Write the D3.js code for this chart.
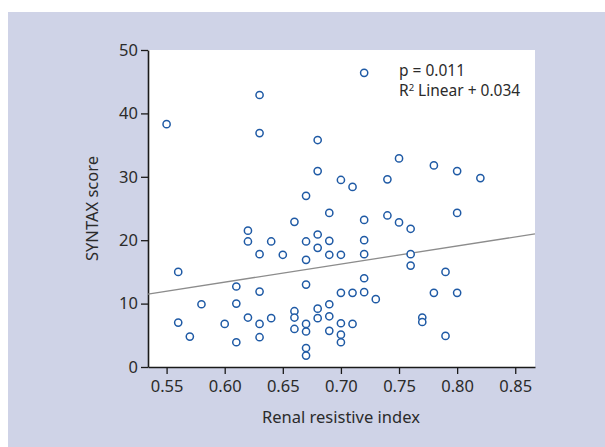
<!DOCTYPE html>
<html>
<head>
<meta charset="utf-8">
<script src="https://cdn.jsdelivr.net/npm/d3@7"></script>
<style>
  body { margin: 0; background: #fff; }
  svg { display: block; font-family: "Noto Sans", "Open Sans", sans-serif; }
</style>
</head>
<body>
<div id="chart"></div>
<script>
// renal resistive index vs SYNTAX score
const riIndex = [
  0.55, 0.63, 0.63, 0.72, 0.68, 0.68, 0.75, 0.70, 0.71, 0.74,
  0.67, 0.78, 0.80, 0.82, 0.56, 0.62, 0.62, 0.64, 0.63, 0.65,
  0.61, 0.63, 0.58, 0.61, 0.56, 0.60, 0.62, 0.63, 0.64, 0.57,
  0.61, 0.63, 0.69, 0.66, 0.72, 0.74, 0.75, 0.76, 0.68, 0.67,
  0.69, 0.72, 0.68, 0.67, 0.69, 0.70, 0.72, 0.76, 0.76, 0.72,
  0.67, 0.70, 0.71, 0.72, 0.73, 0.69, 0.66, 0.66, 0.68, 0.68,
  0.69, 0.66, 0.67, 0.67, 0.69, 0.70, 0.71, 0.70, 0.70, 0.67,
  0.67, 0.80, 0.79, 0.78, 0.80, 0.77, 0.77, 0.79
];
const syntaxScore = [
  38.3, 42.9, 36.9, 46.4, 35.8, 30.9, 32.9, 29.5, 28.4, 29.6,
  27.0, 31.8, 30.9, 29.8, 15.0, 21.5, 19.8, 19.8, 17.8, 17.7,
  12.7, 11.9, 9.9, 10.0, 7.0, 6.8, 7.8, 6.8, 7.7, 4.8,
  3.9, 4.7, 24.3, 22.9, 23.2, 23.9, 22.8, 21.8, 20.9, 19.8,
  19.9, 20.0, 18.8, 16.9, 17.7, 17.7, 17.8, 17.8, 16.0, 14.0,
  13.0, 11.7, 11.7, 11.8, 10.7, 9.9, 8.8, 7.8, 9.2, 7.7,
  8.0, 6.0, 6.8, 5.6, 5.7, 6.9, 6.8, 5.1, 3.9, 3.0,
  1.8, 24.3, 15.0, 11.7, 11.7, 7.8, 7.1, 4.9
];
// fitted line, end points in data units
const fitX = [0.534, 0.867];
const fitY = [11.5, 21.0];

const xTicks = [0.55, 0.60, 0.65, 0.70, 0.75, 0.80, 0.85];
const yTicks = [0, 10, 20, 30, 40, 50];
const statLines = ["p = 0.011", "Linear + 0.034"];

const W = 605, H = 447;
const margin = { top: 50, right: 70, bottom: 80, left: 148 };
const width = W - margin.left - margin.right;
const height = H - margin.top - margin.bottom;

const svg = d3.select("#chart").append("svg")
  .attr("width", W)
  .attr("height", H);

// lavender panel
svg.append("rect")
  .attr("x", 8).attr("y", 12)
  .attr("width", W - 8).attr("height", H - 12)
  .attr("fill", "#cfd3e7");

const g = svg.append("g")
  .attr("transform", `translate(${margin.left},${margin.top})`);

g.append("rect")
  .attr("width", width).attr("height", height)
  .attr("fill", "#fff");

const x = d3.scaleLinear().domain([0.534, 0.867]).range([0, width]);
const y = d3.scaleLinear().domain([0, 50]).range([height, 0]);

const xAxis = g.append("g")
  .attr("transform", `translate(0,${height})`)
  .call(d3.axisBottom(x).tickValues(xTicks).tickFormat(d3.format(".2f")).tickSize(7).tickSizeOuter(0).tickPadding(6));

const yAxis = g.append("g")
  .call(d3.axisLeft(y).tickValues(yTicks).tickSize(7).tickSizeOuter(0).tickPadding(3));

[xAxis, yAxis].forEach(a => {
  a.select(".domain").attr("stroke", "#1a1a1a").attr("stroke-width", 1.6);
  a.selectAll(".tick line").attr("stroke", "#1a1a1a").attr("stroke-width", 1.3);
  a.selectAll(".tick text")
    .attr("fill", "#2b2b2b")
    .style("font-size", "16.5px")
    .style("font-family", "\"Noto Sans\", sans-serif");
});

// regression line
g.append("line")
  .attr("x1", x(fitX[0])).attr("y1", y(fitY[0]))
  .attr("x2", x(fitX[1])).attr("y2", y(fitY[1]))
  .attr("stroke", "#8c8c8c")
  .attr("stroke-width", 1.3);

const pts = riIndex.map((v, i) => ({ ri: v, score: syntaxScore[i] }));

g.selectAll("circle.pt")
  .data(pts)
  .join("circle")
  .attr("class", "pt")
  .attr("cx", d => x(d.ri))
  .attr("cy", d => y(d.score))
  .attr("r", 3.6)
  .attr("fill", "#fff")
  .attr("stroke", "#1f5aa5")
  .attr("stroke-width", 1.5);

// stats text
g.append("text")
  .attr("x", 251).attr("y", 26)
  .attr("fill", "#2b2b2b")
  .style("font-size", "15.5px")
  .text(statLines[0]);
const t2 = g.append("text")
  .attr("x", 251).attr("y", 46)
  .attr("fill", "#2b2b2b")
  .style("font-size", "15.5px");
t2.append("tspan").text("R");
t2.append("tspan").attr("dy", -5).style("font-size", "9.5px").text("2");
t2.append("tspan").attr("dy", 5).text(" " + statLines[1]);

// axis titles
svg.append("text")
  .attr("x", margin.left + x(0.70)).attr("y", 423)
  .attr("text-anchor", "middle")
  .attr("fill", "#2b2b2b")
  .style("font-size", "16.5px")
  .text("Renal resistive index");

svg.append("text")
  .attr("transform", `translate(98,${margin.top + height / 2}) rotate(-90)`)
  .attr("text-anchor", "middle")
  .attr("fill", "#2b2b2b")
  .style("font-size", "16.5px")
  .text("SYNTAX score");
</script>
</body>
</html>
